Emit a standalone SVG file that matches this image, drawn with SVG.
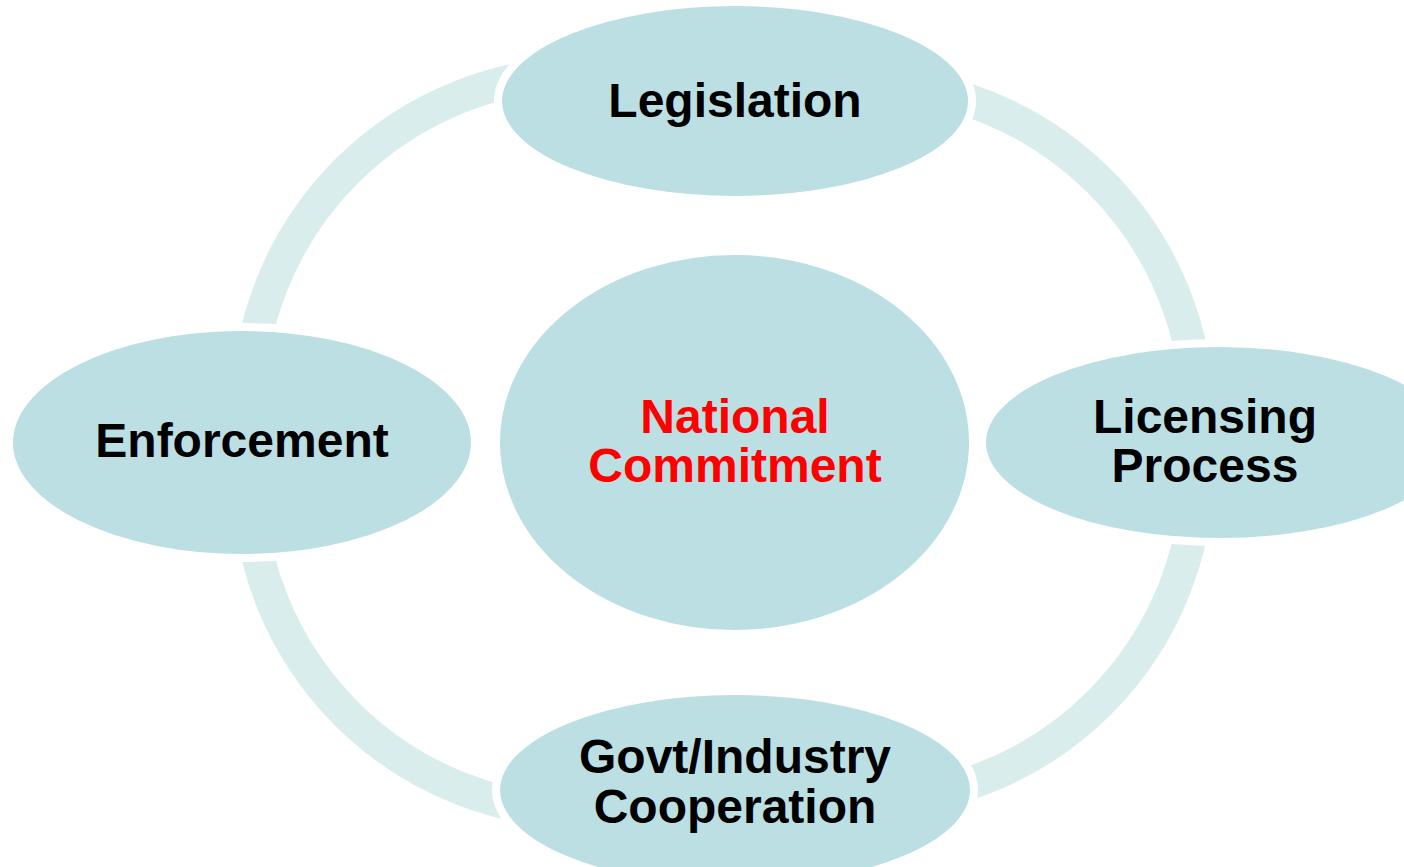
<svg xmlns="http://www.w3.org/2000/svg" width="1404" height="867" viewBox="0 0 1404 867">
<style>
.ring{fill:none;stroke:#daeded;stroke-width:33}
.node{fill:#bbdfe3;stroke:#ffffff;stroke-width:8}
.lbl{font-family:"Liberation Sans",Arial,sans-serif;font-weight:bold;font-size:48px;fill:#000000;text-anchor:middle}
.red{fill:#ff0000}
</style>
<rect width="1404" height="867" fill="#ffffff"/>
<g id="connectors">
<path class="ring" d="M584,73 A336,336 0 0 0 248,409"/>
<path class="ring" d="M248,476 A336,336 0 0 0 584,812"/>
<path class="ring" d="M862,801 A336,336 0 0 0 1198,465"/>
<path class="ring" d="M1198,419 A336,336 0 0 0 862,83"/>
</g>
<g id="node-center">
<ellipse class="node" cx="734.5" cy="442.5" rx="238.5" ry="191.5"/>
<text class="lbl red" x="735" y="433">National</text>
<text class="lbl red" x="735" y="482">Commitment</text>
</g>
<g id="node-legislation">
<ellipse class="node" cx="735" cy="101" rx="237" ry="99"/>
<text class="lbl" x="735" y="117">Legislation</text>
</g>
<g id="node-enforcement">
<ellipse class="node" cx="242" cy="442.5" rx="233" ry="115.5"/>
<text class="lbl" x="242" y="457">Enforcement</text>
</g>
<g id="node-licensing">
<ellipse class="node" cx="1219" cy="442.5" rx="237" ry="99.5"/>
<text class="lbl" x="1205" y="433">Licensing</text>
<text class="lbl" x="1205" y="482">Process</text>
</g>
<g id="node-govt">
<ellipse class="node" cx="735" cy="790" rx="239" ry="99"/>
<text class="lbl" x="735" y="773">Govt/Industry</text>
<text class="lbl" x="735" y="823">Cooperation</text>
</g>
</svg>
